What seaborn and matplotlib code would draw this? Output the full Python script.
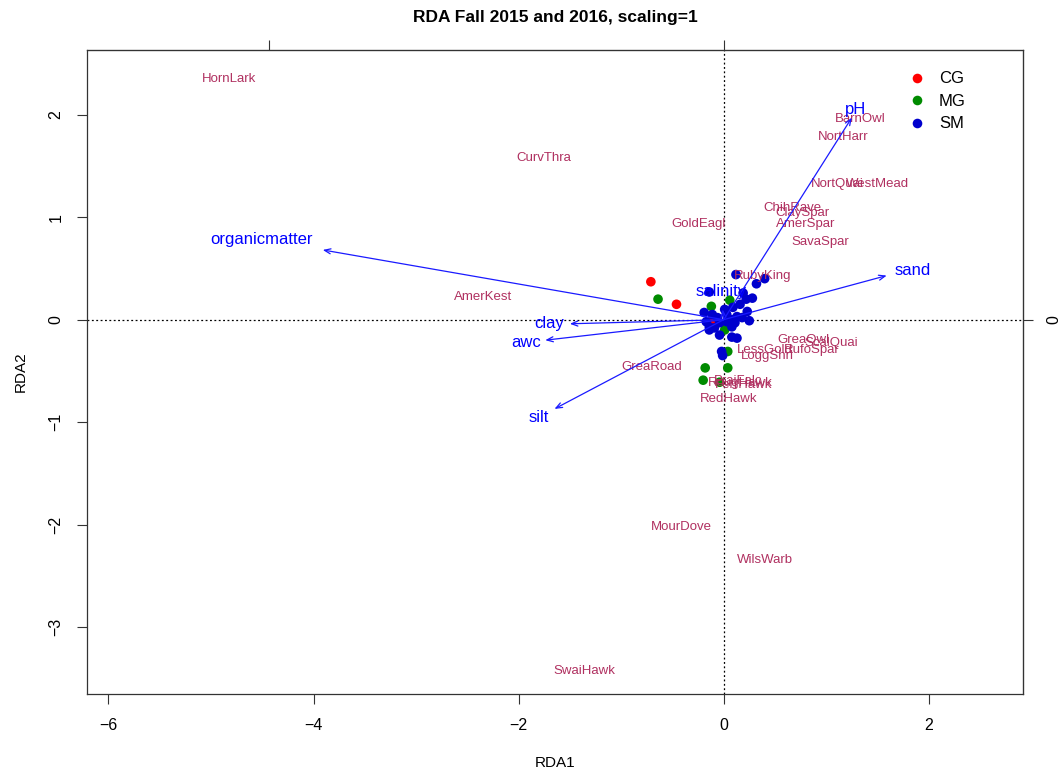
import matplotlib
matplotlib.use("Agg")
import matplotlib.pyplot as plt
import seaborn as sns
import pandas as pd

# Site scores (RDA1, RDA2) by management group
cg_x = [-0.71, -0.46, -0.11]
cg_y = [0.37, 0.15, 0.00]
mg_x = [-0.64, -0.12, 0.06, 0.04, 0.01, 0.04, -0.18, 0.04, -0.20, -0.04]
mg_y = [0.20, 0.13, 0.19, -0.06, -0.10, -0.31, -0.47, -0.47, -0.59, -0.61]
sm_x = [0.12, 0.32, 0.40, -0.14, 0.19, 0.22, 0.28, 0.16, 0.09, 0.23, -0.19, -0.11,
        0.25, -0.17, -0.14, -0.09, -0.04, 0.03, 0.08, 0.11, 0.13, 0.03, 0.08, -0.14,
        0.08, 0.13, -0.02, -0.01, -0.06, 0.01, 0.18, -0.04]
sm_y = [0.44, 0.35, 0.40, 0.27, 0.26, 0.20, 0.21, 0.15, 0.12, 0.08, 0.07, 0.05,
        -0.01, -0.02, -0.07, -0.08, -0.03, -0.02, 0.00, -0.03, 0.03, 0.05, -0.07, -0.10,
        -0.17, -0.18, -0.31, -0.35, 0.02, 0.10, 0.02, -0.15]

# Species scores
species = ["HornLark", "CurvThra", "GoldEagl", "AmerKest", "GreaRoad", "MourDove",
           "WilsWarb", "SwaiHawk", "BarnOwl", "NortHarr", "NortQuai", "WestMead",
           "ChihRave", "ClaySpar", "AmerSpar", "SavaSpar", "RubyKing", "GreaOwl",
           "ScalQuai", "RufoSpar", "LessGold", "LoggShri", "PraiFalc", "RougHawk",
           "FerrHawk", "RedHawk"]
sp_x = [-4.82, -1.75, -0.24, -2.35, -0.70, -0.41, 0.40, -1.36, 1.33, 1.17, 1.11, 1.50,
        0.67, 0.77, 0.80, 0.94, 0.38, 0.78, 1.05, 0.86, 0.40, 0.43, 0.14, 0.16,
        0.19, 0.05]
sp_y = [2.35, 1.58, 0.93, 0.22, -0.46, -2.02, -2.34, -3.43, 1.96, 1.78, 1.32, 1.32,
        1.09, 1.04, 0.93, 0.76, 0.43, -0.20, -0.23, -0.30, -0.30, -0.35, -0.60, -0.62,
        -0.64, -0.77]

# Environmental variable arrows (tips) and their label positions
env = ["organicmatter", "sand", "pH", "clay", "awc", "silt", "salinity"]
env_x = [-3.91, 1.59, 1.25, -1.50, -1.74, -1.65, -0.01]
env_y = [0.68, 0.43, 1.97, -0.04, -0.20, -0.87, 0.10]
env_lab_x = [-4.51, 1.84, 1.29, -1.70, -1.93, -1.80, -0.02]
env_lab_y = [0.78, 0.48, 2.05, -0.04, -0.22, -0.95, 0.27]

groups = ["CG", "MG", "SM"]
group_colors = {"CG": "#FF0000", "MG": "#008B00", "SM": "#0000CD"}

sites = pd.DataFrame({
    "RDA1": cg_x + mg_x + sm_x,
    "RDA2": cg_y + mg_y + sm_y,
    "group": ["CG"] * len(cg_x) + ["MG"] * len(mg_x) + ["SM"] * len(sm_x),
})

sns.set_style("ticks")
plt.rcParams["font.family"] = ["Liberation Sans", "DejaVu Sans"]
plt.rcParams["text.color"] = "black"
plt.rcParams["axes.labelcolor"] = "black"
plt.rcParams["xtick.labelcolor"] = "black"
plt.rcParams["ytick.labelcolor"] = "black"

fig = plt.figure(figsize=(10.63, 7.76), dpi=100)
ax = fig.add_axes([0.0818, 0.1057, 0.8806, 0.8299])

ax.axhline(0, color="black", lw=0.9, ls=(0, (1.5, 2)), zorder=1)
ax.axvline(0, color="black", lw=0.9, ls=(0, (1.5, 2)), zorder=1)

sns.scatterplot(data=sites, x="RDA1", y="RDA2", hue="group", hue_order=groups,
                palette=group_colors, s=48, edgecolor="none", linewidth=0,
                ax=ax, zorder=3)

for name, x, y in zip(species, sp_x, sp_y):
    ax.text(x, y, name, color="#B03060", fontsize=9.5, ha="center", va="center",
            zorder=4)

for name, x, y, lx, ly in zip(env, env_x, env_y, env_lab_x, env_lab_y):
    ax.annotate("", xy=(x, y), xytext=(0, 0),
                arrowprops=dict(arrowstyle="->,head_length=0.45,head_width=0.18",
                                color="#1a1aff", lw=0.9, shrinkA=0, shrinkB=0),
                zorder=5)
    ax.text(lx, ly, name, color="#0000FF", fontsize=12, ha="center", va="center",
            zorder=6)

ax.set_xlim(-6.21, 2.92)
ax.set_ylim(-3.65, 2.63)
ax.set_xticks([-6, -4, -2, 0, 2])
ax.set_yticks([-3, -2, -1, 0, 1, 2])
ax.set_xticklabels(["\u22126", "\u22124", "\u22122", "0", "2"])
ax.set_yticklabels(["\u22123", "\u22122", "\u22121", "0", "1", "2"], rotation=90,
                   va="center")
ax.tick_params(axis="both", direction="out", length=7, width=0.8, pad=10,
               labelsize=11.5, color="#333333", labelcolor="black")
ax.set_xlabel("RDA1", fontsize=11, labelpad=17, color="black")
ax.set_ylabel("RDA2", fontsize=11, labelpad=15, color="black")
for sp in ax.spines.values():
    sp.set_visible(True)
    sp.set_linewidth(0.9)
    sp.set_color("#333333")

top = ax.secondary_xaxis("top")
top.set_xticks([-4.43, 0])
top.set_xticklabels(["", ""])
top.tick_params(direction="out", length=7, width=0.8, color="#333333")

right = ax.secondary_yaxis("right")
right.set_yticks([0])
right.set_yticklabels(["0"], rotation=90, va="center")
right.tick_params(direction="out", length=7, width=0.8, pad=10, labelsize=11.5,
                  color="#333333", labelcolor="black")

fig.text(0.522, 0.977, "RDA Fall 2015 and 2016, scaling=1", fontsize=12.5,
         fontweight="bold", ha="center", va="center", color="black")

leg = ax.legend(loc="upper right", bbox_to_anchor=(0.955, 0.99), frameon=False,
                fontsize=12, handletextpad=0.3, labelspacing=0.45, markerscale=1.0)
for t in leg.get_texts():
    t.set_color("black")

fig.savefig("out.png", dpi=100)
